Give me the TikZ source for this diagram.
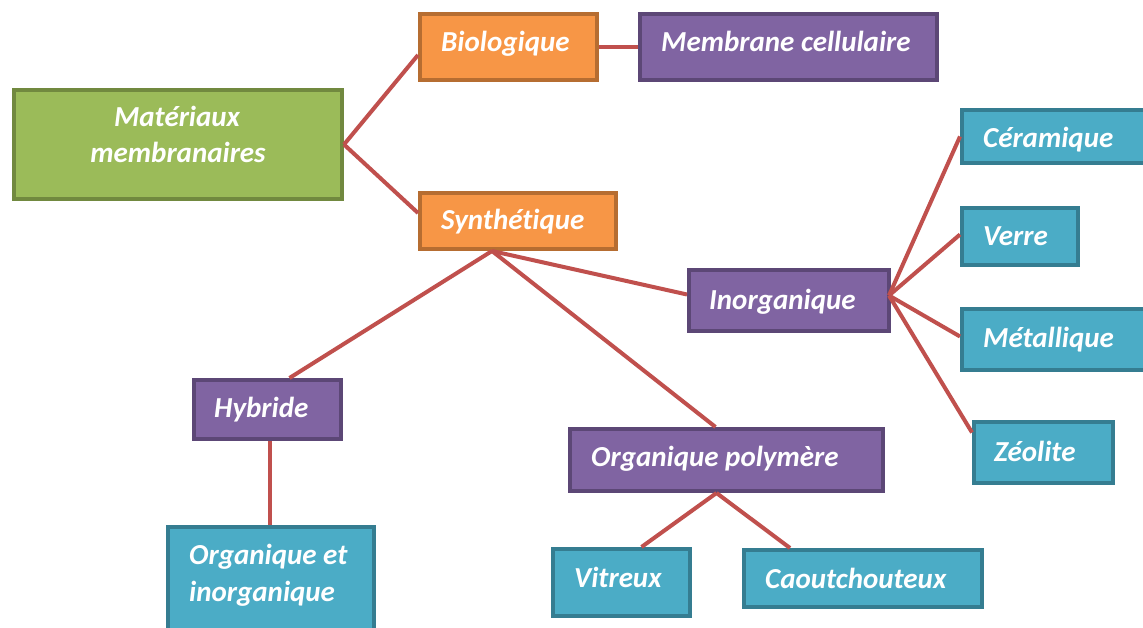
\documentclass[tikz,border=0pt]{standalone}
\usepackage{fontspec}
\setmainfont[Ligatures={NoCommon}]{Carlito}
\usetikzlibrary{calc}
\definecolor{gfill}{HTML}{9BBB59}\definecolor{gline}{HTML}{71893F}
\definecolor{ofill}{HTML}{F79646}\definecolor{oline}{HTML}{B66D31}
\definecolor{pfill}{HTML}{8064A2}\definecolor{pline}{HTML}{5C4776}
\definecolor{tfill}{HTML}{4BACC6}\definecolor{tline}{HTML}{357D91}
\definecolor{conn}{HTML}{C0504D}
\tikzset{
  box/.style={rectangle, line width=4pt, anchor=north west, inner sep=0pt},
  gbox/.style={box, fill=gfill, draw=gline},
  obox/.style={box, fill=ofill, draw=oline},
  pbox/.style={box, fill=pfill, draw=pline},
  tbox/.style={box, fill=tfill, draw=tline},
  txt/.style={inner sep=0pt, anchor=base west, text=white, font=\fontsize{29}{36}\selectfont\bfseries\itshape},
  link/.style={draw=conn, line width=4pt},
}
\newcommand{\bx}[6]{% style, name, x1, y1, x2, y2
  \pgfmathsetmacro{\ww}{#5-#3-4}\pgfmathsetmacro{\hh}{#6-#4-4}
  \node[#1, minimum width=\ww pt, minimum height=\hh pt] (#2) at (#3+2,#4+2) {};}
\begin{document}
\begin{tikzpicture}[x=1pt,y=-1pt]
\useasboundingbox (0,0) rectangle (1143,628);
\fill[white] (0,0) rectangle (1143,628);
% boxes
\bx{gbox}{mat}{10}{86}{342}{199}
\bx{obox}{bio}{416}{10}{597}{80}
\bx{pbox}{mem}{636}{10}{937}{80}
\bx{obox}{syn}{416}{189}{616}{249}
\bx{pbox}{ino}{685}{266}{889}{331}
\bx{tbox}{cer}{958}{106}{1160}{163}
\bx{tbox}{ver}{958}{204}{1078}{265}
\bx{tbox}{met}{958}{305}{1160}{370}
\bx{tbox}{zeo}{970}{418}{1113}{483}
\bx{pbox}{hyb}{190}{376}{341}{439}
\bx{pbox}{org}{566}{425}{883}{491}
\bx{tbox}{oei}{164}{523}{374}{650}
\bx{tbox}{vit}{549}{545}{690}{616}
\bx{tbox}{cao}{740}{546}{982}{607}
% texts
\node[txt, anchor=base] (mat1) at (177,127) {Matériaux};
\node[txt, anchor=base] (mat2) at (178,163) {membranaires};
\node[txt] (biot) at (441,52) {Biologique};
\node[txt] (memt) at (661,52) {Membrane cellulaire};
\node[txt] (synt) at (441,230) {Synthétique};
\node[txt] (inot) at (709,309) {Inorganique};
\node[txt] (cert) at (983,148) {Céramique};
\node[txt] (vert) at (983,246) {Verre};
\node[txt] (mett) at (983,347) {Métallique};
\node[txt] (zeot) at (994,461) {Zéolite};
\node[txt] (hybt) at (214,417) {Hybride};
\node[txt] (orgt) at (591,466) {Organique polymère};
\node[txt] (oei1) at (189,564) {Organique et};
\node[txt] (oei2) at (189,601) {inorganique};
\node[txt] (vitt) at (574,587) {Vitreux};
\node[txt] (caot) at (765,588) {Caoutchouteux};
% connectors
\draw[link] (mat.east) -- ($(bio.west)+(0,8)$);
\draw[link] (mat.east) -- ($(syn.west)+(0,-8)$);
\draw[link] (bio.east) -- (mem.west);
\draw[link] ($(syn.south)+(-26,0)$) -- ($(ino.west)+(0,-6)$);
\draw[link] ($(syn.south)+(-26,0)$) -- ($(hyb.north)+(22,0)$);
\draw[link] ($(syn.south)+(-26,0)$) -- ($(org.north)+(-11,0)$);
\draw[link] ($(ino.east)+(-2,-5)$) -- (cer.west);
\draw[link] ($(ino.east)+(-2,-5)$) -- ($(ver.west)+(0,-2)$);
\draw[link] ($(ino.east)+(-2,-5)$) -- ($(met.west)+(0,-3)$);
\draw[link] ($(ino.east)+(-2,-5)$) -- ($(zeo.west)+(0,-20)$);
\draw[link] ($(hyb.south)+(2.5,0)$) -- ($(oei.north)+(-1,0)$);
\draw[link] ($(org.south)+(-10,0)$) -- ($(vit.north)+(20,0)$);
\draw[link] ($(org.south)+(-10,0)$) -- ($(cao.north)+(-73,0)$);
\end{tikzpicture}
\end{document}
